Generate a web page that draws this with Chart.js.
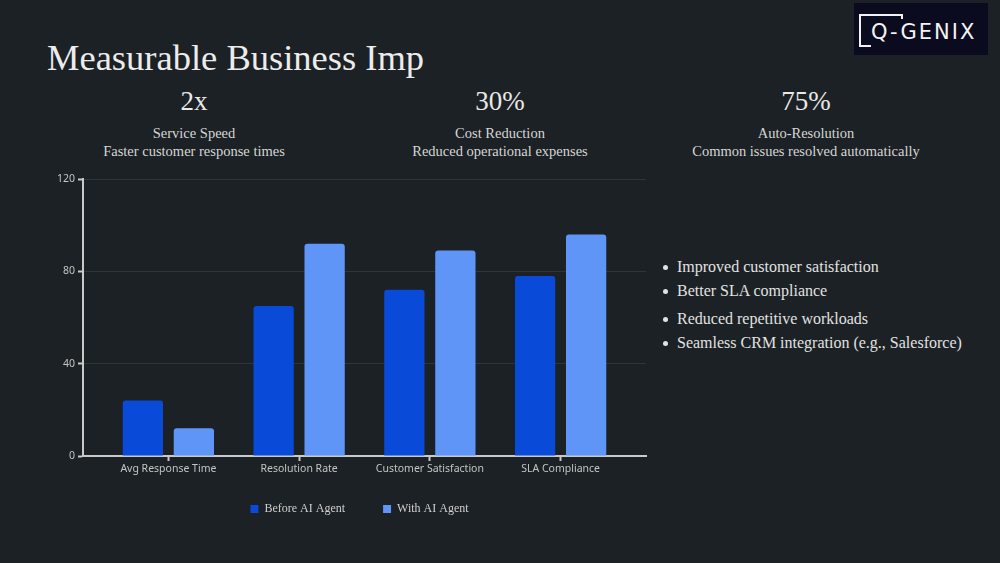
<!DOCTYPE html>
<html>
<head>
<meta charset="utf-8">
<script src="https://cdn.jsdelivr.net/npm/chart.js@4.4.1/dist/chart.umd.min.js"></script>
<style>
  html, body { margin: 0; padding: 0; }
  body {
    width: 1000px; height: 563px; overflow: hidden; position: relative;
    background: #1b2124; color: #e4e4e4;
    font-family: 'Liberation Serif', serif;
  }
  .title { position: absolute; left: 47px; top: 40px; font-size: 36.5px; line-height: 36px; color: #ececec; white-space: nowrap; }
  .stat { position: absolute; top: 88px; width: 300px; text-align: center; }
  .stat .num { font-size: 27px; line-height: 27px; color: #e8e8e8; }
  .stat .lbl { margin-top: 9px; font-size: 14.5px; line-height: 18px; color: #d6d6d6; }
  .bullet { position: absolute; left: 677px; font-size: 16px; line-height: 20px; color: #e2e2e2; white-space: nowrap; }
  .bullet::before { content: ''; position: absolute; left: -14px; top: 8px; width: 5px; height: 5px; border-radius: 50%; background: #e2e2e2; }
  .logo { position: absolute; left: 854px; top: 3px; width: 134px; height: 52px; background: #0b0b1f; }
  .logo .ln { position: absolute; background: #f2f2f2; }
  .logo .txt { position: absolute; left: 17px; top: 17px; font-family: 'DejaVu Sans', sans-serif; font-size: 21px; line-height: 24px; letter-spacing: 2px; color: #f4f4f4; }
  #chartBox { position: absolute; left: 45px; top: 165px; width: 630px; height: 373px; }
</style>
</head>
<body>
<div class="title">Measurable Business Imp</div>

<div class="stat" style="left:44px"><div class="num">2x</div><div class="lbl">Service Speed<br>Faster customer response times</div></div>
<div class="stat" style="left:350px"><div class="num">30%</div><div class="lbl">Cost Reduction<br>Reduced operational expenses</div></div>
<div class="stat" style="left:656px"><div class="num">75%</div><div class="lbl">Auto-Resolution<br>Common issues resolved automatically</div></div>

<div class="bullet" style="top:257px">Improved customer satisfaction</div>
<div class="bullet" style="top:281px">Better SLA compliance</div>
<div class="bullet" style="top:309px">Reduced repetitive workloads</div>
<div class="bullet" style="top:333px">Seamless CRM integration (e.g., Salesforce)</div>

<div class="logo">
  <div class="ln" style="left:5px;top:11px;width:44px;height:2px"></div>
  <div class="ln" style="left:47px;top:11px;width:2px;height:5px"></div>
  <div class="ln" style="left:5px;top:11px;width:2px;height:33px"></div>
  <div class="ln" style="left:5px;top:42px;width:12px;height:2px"></div>
  <div class="txt">Q-GENIX</div>
</div>

<div id="chartBox"><canvas id="chart"></canvas></div>

<script>
'use strict'
const categories = ['Avg Response Time', 'Resolution Rate', 'Customer Satisfaction', 'SLA Compliance']
const beforeAgent = [24, 65, 72, 78]
const withAgent = [12, 92, 89, 96]
const yTicks = [0, 40, 80, 120]

const axisColor = '#c9c9c9'
const tickFont = { family: "'Noto Sans', sans-serif", size: 10.5 }

const toPoints = (values) => values.map((v, i) => ({ x: i, y: v }))

// nudge the legend so it sits under the plot like the original
const shiftLegend = {
  id: 'shiftLegend',
  afterLayout(chart) {
    const lg = chart.legend
    lg.left += 14
    lg.right += 14
    lg.top -= 13
    lg.bottom -= 13
  },
}

const ctx = document.getElementById('chart').getContext('2d')

const data = {
  datasets: [
    {
      label: 'Before AI Agent',
      backgroundColor: '#0a4ad8',
      data: toPoints(beforeAgent),
    },
    {
      label: 'With AI Agent',
      backgroundColor: '#5f95f7',
      data: toPoints(withAgent),
    },
  ],
}

const config = {
  type: 'bar',
  data: data,
  plugins: [shiftLegend],
  options: {
    responsive: true,
    maintainAspectRatio: false,
    animation: false,
    layout: { padding: { top: 14, right: 29, bottom: 0, left: 0 } },
    datasets: {
      bar: {
        categoryPercentage: 0.78,
        barPercentage: 0.79,
        borderRadius: { topLeft: 3, topRight: 3 },
        borderSkipped: 'bottom',
      },
    },
    scales: {
      x: {
        type: 'linear',
        bounds: 'data',
        offset: false,
        min: -0.653,
        max: categories.length - 1 + 0.653,
        afterBuildTicks: (scale) => {
          scale.ticks = categories.map((c, i) => ({ value: i }))
        },
        afterFit: (scale) => { scale.height = 22 },
        ticks: {
          color: '#c4c4c4',
          font: tickFont,
          padding: 2,
          maxRotation: 0,
          autoSkip: false,
          callback: (v) => categories[v],
        },
        grid: {
          offset: false,
          drawOnChartArea: false,
          drawTicks: true,
          tickLength: 5,
          tickColor: axisColor,
          tickWidth: 2,
        },
        border: { color: axisColor, width: 2 },
      },
      y: {
        min: 0,
        max: 120,
        afterBuildTicks: (scale) => {
          scale.ticks = yTicks.map((v) => ({ value: v }))
        },
        afterFit: (scale) => { scale.width = 38 },
        ticks: {
          color: '#c4c4c4',
          font: tickFont,
          padding: 3,
        },
        grid: {
          color: '#2d3639',
          lineWidth: 1,
          tickLength: 5,
          tickColor: axisColor,
          tickWidth: 2,
        },
        border: { color: axisColor, width: 2 },
      },
    },
    plugins: {
      legend: {
        position: 'bottom',
        labels: {
          boxWidth: 8,
          boxHeight: 8,
          padding: 38,
          color: '#cfcfcf',
          font: { family: "'Liberation Serif', serif", size: 12 },
        },
      },
      tooltip: { enabled: false },
    },
  },
}

const chart = new Chart(ctx, config)
</script>
</body>
</html>
